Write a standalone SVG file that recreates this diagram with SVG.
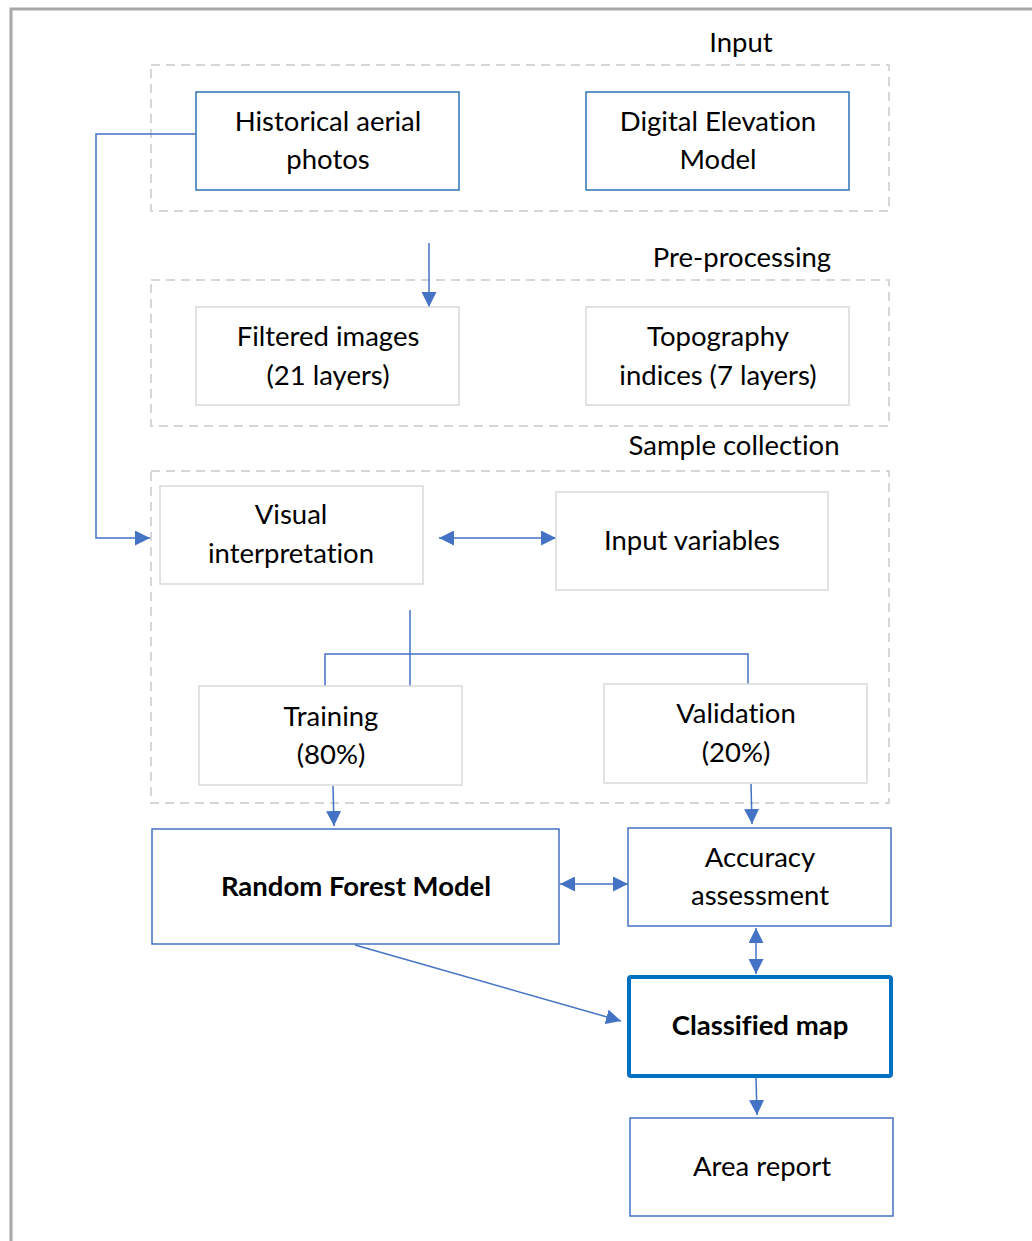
<svg xmlns="http://www.w3.org/2000/svg" width="1032" height="1241" viewBox="0 0 1032 1241">
<defs>
<marker id="ah" viewBox="0 0 10 10" refX="10" refY="5" markerWidth="15" markerHeight="15" markerUnits="userSpaceOnUse" orient="auto-start-reverse">
<path d="M0,0 L10,5 L0,10 z" fill="#4472C4"/>
</marker>
<style>
.t{font-family:Lato,"Liberation Sans",sans-serif;font-size:27.5px;fill:#000;text-anchor:middle;font-variant-ligatures:none}
.b{font-weight:bold}
.grp{fill:none;stroke:#d6d6d6;stroke-width:2;stroke-dasharray:9,6}
.bx1{fill:#fff;stroke:#2E75B6;stroke-width:1.5}
.bx2{fill:#fff;stroke:#d9d9d9;stroke-width:1.5}
.bx3{fill:#fff;stroke:#4472C4;stroke-width:1.5}
.c{fill:none;stroke:#4472C4;stroke-width:1.5}
.ca{fill:none;stroke:#4472C4;stroke-width:1.5;marker-end:url(#ah)}
.cb{fill:none;stroke:#4472C4;stroke-width:1.5;marker-start:url(#ah);marker-end:url(#ah)}
</style>
</defs>
<rect x="0" y="0" width="1032" height="1241" fill="#fff"/>
<path d="M11,1241 L11,9 L1032,9" fill="none" stroke="#a8a8a8" stroke-width="3"/>

<g id="group-input">
<rect class="grp" x="151" y="65" width="738" height="146"/>
<text class="t" x="741" y="52">Input</text>
</g>
<g id="group-preprocessing">
<rect class="grp" x="151" y="280" width="738" height="146"/>
<text class="t" x="742" y="267">Pre-processing</text>
</g>
<g id="group-sample">
<rect class="grp" x="151" y="471" width="738" height="332"/>
<text class="t" x="734" y="455">Sample collection</text>
</g>

<g id="connectors">
<path class="ca" d="M196,134 L96,134 L96,538 L150,538"/>
<path class="ca" d="M429,243 L429,307"/>
<path class="cb" d="M439,538 L556,538"/>
<path class="c" d="M410,610 L410,686"/>
<path class="c" d="M325,686 L325,654 L748,654 L748,685"/>
<path class="ca" d="M333,786 L334,826"/>
<path class="ca" d="M751,784 L752,824"/>
<path class="cb" d="M560,884 L628,884"/>
<path class="cb" d="M756,928 L756,974"/>
<path class="ca" d="M355,945 L621,1021"/>
<path class="ca" d="M756,1078 L757,1115"/>
</g>

<g id="node-historical">
<rect class="bx1" x="196" y="92" width="263" height="98"/>
<text class="t" x="328" y="131">Historical aerial</text>
<text class="t" x="328" y="169">photos</text>
</g>
<g id="node-dem">
<rect class="bx1" x="586" y="92" width="263" height="98"/>
<text class="t" x="718" y="131">Digital Elevation</text>
<text class="t" x="718" y="169">Model</text>
</g>
<g id="node-filtered">
<rect class="bx2" x="196" y="307" width="263" height="98"/>
<text class="t" x="328" y="346">Filtered images</text>
<text class="t" x="328" y="385">(21 layers)</text>
</g>
<g id="node-topography">
<rect class="bx2" x="586" y="307" width="263" height="98"/>
<text class="t" x="718" y="346">Topography</text>
<text class="t" x="718" y="385">indices (7 layers)</text>
</g>
<g id="node-visual">
<rect class="bx2" x="160" y="486" width="263" height="98"/>
<text class="t" x="291" y="524">Visual</text>
<text class="t" x="291" y="563">interpretation</text>
</g>
<g id="node-inputvars">
<rect class="bx2" x="556" y="492" width="272" height="98"/>
<text class="t" x="692" y="550">Input variables</text>
</g>
<g id="node-training">
<rect class="bx2" x="199" y="686" width="263" height="99"/>
<text class="t" x="331" y="726">Training</text>
<text class="t" x="331" y="764">(80%)</text>
</g>
<g id="node-validation">
<rect class="bx2" x="604" y="684" width="263" height="99"/>
<text class="t" x="736" y="723">Validation</text>
<text class="t" x="736" y="762">(20%)</text>
</g>
<g id="node-rf">
<rect class="bx3" x="152" y="829" width="407" height="115"/>
<text class="t b" x="356" y="896">Random Forest Model</text>
</g>
<g id="node-accuracy">
<rect class="bx3" x="628" y="828" width="263" height="98"/>
<text class="t" x="760" y="867">Accuracy</text>
<text class="t" x="760" y="905">assessment</text>
</g>
<g id="node-classified">
<rect x="629" y="977" width="262" height="99" rx="2" fill="#fff" stroke="#0070C0" stroke-width="4"/>
<text class="t b" x="760" y="1035">Classified map</text>
</g>
<g id="node-area">
<rect class="bx3" x="630" y="1118" width="263" height="98"/>
<text class="t" x="762" y="1176">Area report</text>
</g>
</svg>
